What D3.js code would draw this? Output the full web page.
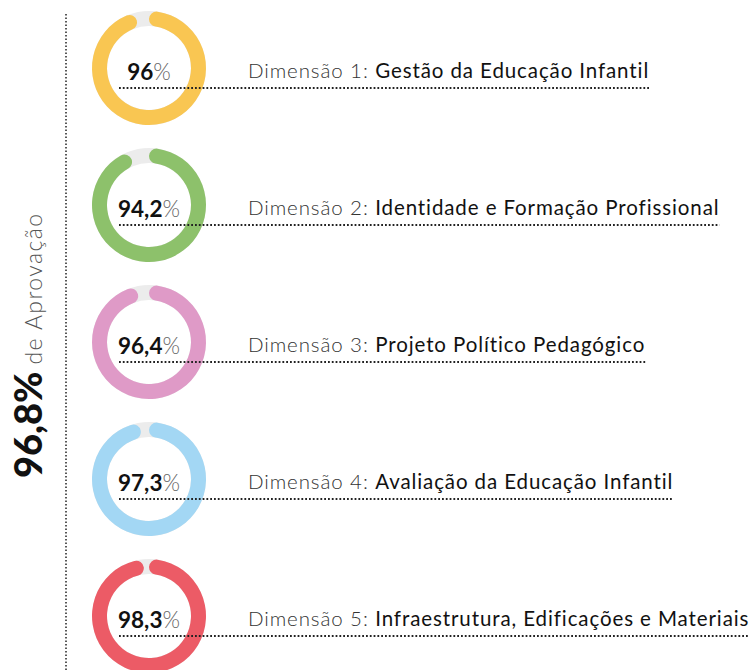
<!DOCTYPE html>
<html>
<head>
<meta charset="utf-8">
<script src="https://cdn.jsdelivr.net/npm/d3@7"></script>
<style>
  body { margin: 0; background: #fff; }
  svg { display: block; font-family: "Lato", "Open Sans", sans-serif; }
</style>
</head>
<body>
<script>
// data
const dims = ["Dimensão 1:", "Dimensão 2:", "Dimensão 3:", "Dimensão 4:", "Dimensão 5:"];
const titles = ["Gestão da Educação Infantil", "Identidade e Formação Profissional",
  "Projeto Político Pedagógico", "Avaliação da Educação Infantil",
  "Infraestrutura, Edificações e Materiais"];
const values = [96, 94.2, 96.4, 97.3, 98.3];
const colors = ["#F9C652", "#8DC16B", "#DF9AC7", "#A3D7F4", "#EC5B66"];
const total = 96.8;
const totalLabel = "de Aprovação";

const W = 749, H = 670;
const svg = d3.select("body").append("svg").attr("width", W).attr("height", H);

const fmt = v => String(v).replace(".", ",");

// row positions
const y = d3.scalePoint().domain(d3.range(values.length)).range([68, 616]);
const cx = 149;
const outerR = 57, innerR = 42;
const angle = d3.scaleLinear().domain([0, 100]).range([0, 2 * Math.PI]);

const track = d3.arc().innerRadius(innerR).outerRadius(outerR)
  .startAngle(0).endAngle(2 * Math.PI);
const arc = d3.arc().innerRadius(innerR).outerRadius(outerR)
  .cornerRadius((outerR - innerR) / 2).startAngle(0);

// left dotted line
svg.append("line")
  .attr("x1", 66).attr("x2", 66).attr("y1", 14).attr("y2", H)
  .attr("stroke", "#222").attr("stroke-width", 1.5)
  .attr("stroke-dasharray", "1.5,2");

// rotated total
const tt = svg.append("text")
  .attr("transform", "translate(42,478) rotate(-90)")
  .attr("fill", "#111");
tt.append("tspan").attr("font-size", 38).attr("font-weight", 900).text(fmt(total) + "%");
tt.append("tspan").attr("font-size", 23).attr("font-weight", 300).attr("fill", "#555")
  .attr("letter-spacing", 1.4).attr("dx", 7).text(totalLabel);

const rows = svg.selectAll("g.row").data(values).join("g")
  .attr("class", "row")
  .attr("transform", (d, i) => `translate(0,${y(i)})`);

rows.append("path").attr("transform", `translate(${cx},0)`)
  .attr("d", track()).attr("fill", "#ececec");
rows.append("path").attr("transform", `translate(${cx},0)`)
  .attr("d", d => arc({ endAngle: angle(d) }))
  .attr("fill", (d, i) => colors[i]);

// label
const lab = rows.append("text")
  .attr("x", 248).attr("y", 10)
  .attr("font-size", 20.5).attr("letter-spacing", 0.9);
lab.append("tspan").attr("font-weight", 300).attr("fill", "#333").text((d, i) => dims[i] + " ");
lab.append("tspan").attr("font-weight", 400).attr("fill", "#111").text((d, i) => titles[i]);

// dotted underline to end of label
rows.each(function () {
  const g = d3.select(this);
  const w = g.select("text").node().getComputedTextLength();
  g.insert("line", "text")
    .attr("x1", 119).attr("x2", Math.min(248 + w, W))
    .attr("y1", 20).attr("y2", 20)
    .attr("stroke", "#222").attr("stroke-width", 1.8)
    .attr("stroke-dasharray", "1.8,2");
});

// value inside donut
const vt = rows.append("text")
  .attr("x", cx).attr("y", 12)
  .attr("text-anchor", "middle")
  .attr("font-size", 22.5);
vt.append("tspan").attr("font-weight", 700).attr("fill", "#111").text(d => fmt(d));
vt.append("tspan").attr("font-weight", 300).attr("fill", "#666").text("%");
</script>
</body>
</html>
